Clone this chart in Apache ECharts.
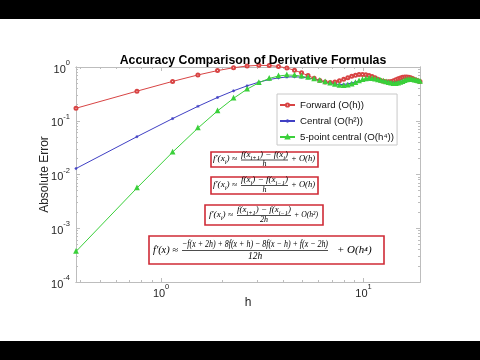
<!DOCTYPE html>
<html>
<head>
<meta charset="utf-8">
<script src="https://cdn.jsdelivr.net/npm/echarts@6/dist/echarts.min.js"></script>
<style>
  html, body { margin: 0; padding: 0; background: #fff; }
  #chart { width: 480px; height: 360px; }
</style>
</head>
<body>
<div id="chart"></div>
<script>
// ---- data ----
const hValues = [0.38, 0.76, 1.14, 1.52, 1.9, 2.28, 2.66, 3.04, 3.42, 3.8,
  4.18, 4.56, 4.94, 5.32, 5.7, 6.08, 6.46, 6.84, 7.22, 7.6,
  7.98, 8.36, 8.74, 9.12, 9.5, 9.88, 10.26, 10.64, 11.02, 11.4,
  11.78, 12.16, 12.54, 12.92, 13.3, 13.68, 14.06, 14.44, 14.82, 15.2,
  15.58, 15.96, 16.34, 16.72, 17.1, 17.48, 17.86, 18.24, 18.62, 19.0];

const forwardErr = [0.1709, 0.3552, 0.5395, 0.7108, 0.8573, 0.9699, 1.0429, 1.0744, 1.0663, 1.0239,
  0.9552, 0.8700, 0.7788, 0.6916, 0.6169, 0.5611, 0.5276, 0.5171, 0.5275, 0.5544,
  0.5918, 0.6332, 0.6721, 0.7028, 0.7215, 0.7260, 0.7164, 0.6945, 0.6638, 0.6286,
  0.5937, 0.5635, 0.5415, 0.5299, 0.5294, 0.5392, 0.5572, 0.5802, 0.6046, 0.6267,
  0.6435, 0.6525, 0.6529, 0.6447, 0.6294, 0.6091, 0.5868, 0.5656, 0.5481, 0.5365];

const centralErr = [0.01291, 0.05053, 0.1097, 0.1853, 0.2712, 0.3605, 0.4462, 0.5223, 0.5837, 0.6273,
  0.6517, 0.6574, 0.6469, 0.6237, 0.5925, 0.5582, 0.5256, 0.4986, 0.4800, 0.4715,
  0.4731, 0.4838, 0.5012, 0.5225, 0.5446, 0.5643, 0.5793, 0.5879, 0.5893, 0.5839,
  0.5728, 0.5579, 0.5414, 0.5258, 0.5131, 0.5049, 0.5020, 0.5046, 0.5120, 0.5230,
  0.5359, 0.5487, 0.5598, 0.5677, 0.5714, 0.5706, 0.5656, 0.5573, 0.5469, 0.5360];

const fivePointErr = [0.000369, 0.005609, 0.02605, 0.07297, 0.1525, 0.2615, 0.3871, 0.5103, 0.6121, 0.6792,
  0.7076, 0.7024, 0.6744, 0.6356, 0.5954, 0.5584, 0.5255, 0.4965, 0.4718, 0.4543,
  0.4479, 0.4558, 0.4781, 0.5109, 0.5474, 0.5796, 0.6011, 0.6093, 0.6053, 0.5927,
  0.5759, 0.5583, 0.5414, 0.5255, 0.5108, 0.4983, 0.4902, 0.4891, 0.4966, 0.5122,
  0.5329, 0.5543, 0.5716, 0.5817, 0.5836, 0.5787, 0.5694, 0.5583, 0.5470, 0.5360];

const seriesNames = ['Forward (O(h))', 'Central (O(h\u00B2))', '5-point central (O(h\u2074))'];
const xMajorTicks = [1, 10];
const xMinorTicks = [0.4, 0.5, 0.6, 0.7, 0.8, 0.9, 2, 3, 4, 5, 6, 7, 8, 9];
const yMajorTicks = [1e-4, 1e-3, 1e-2, 1e-1, 1];
const yMinorTicks = [];
for (let d = -4; d < 0; d++) for (let m = 2; m <= 9; m++) yMinorTicks.push(+(m * Math.pow(10, d)).toPrecision(3));

const titleText = 'Accuracy Comparison of Derivative Formulas';
const xName = 'h';
const yName = 'Absolute Error';

// formula boxes: [left part, numerator, denominator, right part]
const formulas = [
  ['f\u2032(x_{i}) \u2248', 'f(x_{i+1}) \u2212 f(x_{i})', 'h', '+ O(h)'],
  ['f\u2032(x_{i}) \u2248', 'f(x_{i}) \u2212 f(x_{i\u22121})', 'h', '+ O(h)'],
  ['f\u2032(x_{i}) \u2248', 'f(x_{i+1}) \u2212 f(x_{i\u22121})', '2h', '+ O(h\u00B2)'],
  ['f\u2032(x) \u2248', '\u2212f(x + 2h) + 8f(x + h) \u2212 8f(x \u2212 h) + f(x \u2212 2h)', '12h', '+ O(h\u2074)']
];

// ---- chart ----
const axisGray = '#bdbdbd';
const textDark = '#262626';
const sansFont = '"Liberation Sans", Arial, Helvetica, sans-serif';
const serifFont = '"Liberation Serif", "DejaVu Serif", serif';

function expLabel(v) {
  const e = Math.round(Math.log10(v));
  if (Math.abs(Math.log10(v) - e) > 1e-6) return '';
  return '{b|10}{s|' + e + '}';
}
const labelRich = {
  b: { fontSize: 11, fontFamily: sansFont, color: textDark, padding: [5, 0, 0, 0], verticalAlign: 'bottom' },
  s: { fontSize: 7.5, fontFamily: sansFont, color: textDark, verticalAlign: 'top' }
};

function xAx(pos, ticks, len, withLabels) {
  const a = {
    type: 'log', logBase: 10, min: 0.38, max: 19, position: pos, gridIndex: 0,
    axisLine: { show: true, onZero: false, lineStyle: { color: axisGray, width: 1 } },
    axisTick: { show: true, inside: true, length: len, customValues: ticks, lineStyle: { color: axisGray } },
    axisLabel: { show: false },
    splitLine: { show: false }, minorTick: { show: false }, minorSplitLine: { show: false }
  };
  if (withLabels) {
    a.axisLabel = { show: true, customValues: xMajorTicks, formatter: expLabel, rich: labelRich, margin: 1 };
    a.name = xName; a.nameLocation = 'middle'; a.nameGap = 15; a.nameMoveOverlap = false;
    a.nameTextStyle = { fontSize: 12, fontFamily: sansFont, color: textDark };
  }
  return a;
}
function yAx(pos, ticks, len, withLabels) {
  const a = {
    type: 'log', logBase: 10, min: 1e-4, max: 1, position: pos, gridIndex: 0,
    axisLine: { show: true, onZero: false, lineStyle: { color: axisGray, width: 1 } },
    axisTick: { show: true, inside: true, length: len, customValues: ticks, lineStyle: { color: axisGray } },
    axisLabel: { show: false },
    splitLine: { show: false }, minorTick: { show: false }, minorSplitLine: { show: false }
  };
  if (withLabels) {
    a.axisLabel = { show: true, customValues: yMajorTicks, formatter: expLabel, rich: labelRich, margin: 6 };
    a.name = yName; a.nameLocation = 'middle'; a.nameGap = 25; a.nameRotate = 90; a.nameMoveOverlap = false;
    a.nameTextStyle = { fontSize: 12, fontFamily: sansFont, color: textDark };
  }
  return a;
}

const colors = ['#d84444', '#4040c4', '#3ad03a'];
const symbols = ['emptyCircle', 'path://M5 0V10M0 5H10M1.5 1.5L8.5 8.5M1.5 8.5L8.5 1.5', 'emptyTriangle'];
const symbolSizes = [3, 3, 2.5];
const values = [forwardErr, centralErr, fivePointErr];

const series = seriesNames.map((name, si) => ({
  name: name, type: 'line', xAxisIndex: 0, yAxisIndex: 0,
  data: hValues.map((h, i) => [h, values[si][i]]),
  symbol: symbols[si], symbolSize: symbolSizes[si], showSymbol: true,
  clip: false,
  lineStyle: { color: colors[si], width: 1 },
  itemStyle: { color: colors[si], borderColor: colors[si], borderWidth: 0.8 },
  emphasis: { disabled: true },
  animation: false
}));

// formula graphics
function parts(s) {
  const out = []; let last = 0, m;
  const re = /_\{([^}]*)\}/g;
  while ((m = re.exec(s))) {
    if (m.index > last) out.push(['n', s.slice(last, m.index)]);
    out.push(['sub', m[1]]);
    last = re.lastIndex;
  }
  if (last < s.length) out.push(['n', s.slice(last)]);
  return out;
}
function toRich(s) { return parts(s).map(p => '{' + p[0] + '|' + p[1] + '}').join(''); }
const measureCtx = document.createElement('canvas').getContext('2d');
function richWidth(s, fs) {
  let w = 0;
  parts(s).forEach(p => {
    const size = p[0] === 'sub' ? fs * 0.72 : fs;
    measureCtx.font = 'italic ' + size + 'px ' + serifFont;
    w += measureCtx.measureText(p[1]).width;
  });
  return w;
}
function richStyles(fs) {
  return {
    n: { fontSize: fs, fontFamily: serifFont, fontStyle: 'italic', fill: '#000', padding: [0, 0, 2, 0], verticalAlign: 'top' },
    sub: { fontSize: fs * 0.72, fontFamily: serifFont, fontStyle: 'italic', fill: '#000', verticalAlign: 'bottom' }
  };
}
function ftext(x, y, s, fs, align, targetW) {
  const sx = targetW ? Math.min(1.15, targetW / richWidth(s, fs)) : 1;
  return { type: 'text', x: x, y: y, scaleX: sx, z: 101,
    style: { text: toRich(s), rich: richStyles(fs), align: align, verticalAlign: 'middle', fill: '#000' } };
}
// layout of formula boxes (pixel positions)
const boxLayout = [
  { box: [211, 152, 107, 15], fs: 8, lx: 213, ly: 160, lw0: 24, nx: 264.5, ny: 156, dy: 164.5, lineY: 160, lw: 47, rx: 291, rw: 24 },
  { box: [211, 177, 107, 17], fs: 8, lx: 213, ly: 186, lw0: 24, nx: 264.5, ny: 181, dy: 190.5, lineY: 185.5, lw: 47, rx: 291, rw: 24 },
  { box: [205, 205, 118, 20], fs: 8, lx: 209, ly: 216, lw0: 24, nx: 264, ny: 211, dy: 220.5, lineY: 215.5, lw: 54, rx: 294, rw: 24 },
  { box: [149, 236, 235, 28], fs: 9.5, lx: 153, ly: 251, lw0: 25, nx: 255, ny: 245.5, dy: 257.5, lineY: 250.5, lw: 146, rx: 337, rw: 41 }
];
const graphics = [
  { type: 'rect', shape: { x: 0, y: 0, width: 480, height: 19 }, style: { fill: '#000' }, z: 100 },
  { type: 'rect', shape: { x: 0, y: 341, width: 480, height: 19 }, style: { fill: '#000' }, z: 100 }
];
formulas.forEach((f, i) => {
  const L = boxLayout[i];
  graphics.push({ type: 'rect', z: 100, shape: { x: L.box[0], y: L.box[1], width: L.box[2], height: L.box[3] },
    style: { fill: '#fff', stroke: '#cf2b36', lineWidth: 1.6 } });
  graphics.push(ftext(L.lx, L.ly, f[0], L.fs, 'left', L.lw0));
  graphics.push(ftext(L.nx, L.ny, f[1], L.fs, 'center', L.lw));
  graphics.push({ type: 'line', z: 101, shape: { x1: L.nx - L.lw / 2, y1: L.lineY, x2: L.nx + L.lw / 2, y2: L.lineY },
    style: { stroke: '#000', lineWidth: 0.7 } });
  graphics.push(ftext(L.nx, L.dy, f[2], L.fs, 'center'));
  graphics.push(ftext(L.rx, L.ly, f[3], L.fs, 'left', L.rw));
});

const chart = echarts.init(document.getElementById('chart'), null, { renderer: 'canvas', width: 480, height: 360 });
chart.setOption({
  animation: false,
  backgroundColor: '#ffffff',
  title: {
    text: titleText, left: 248, top: 50, textAlign: 'center',
    textStyle: { fontSize: 12.3, fontWeight: 'bold', fontFamily: sansFont, color: '#000' }
  },
  grid: { left: 76, right: 60, top: 67, bottom: 78, containLabel: false },
  legend: {
    show: true, orient: 'vertical', left: 277, top: 94,
    data: seriesNames,
    itemWidth: 15, itemHeight: 4, itemGap: 6,
    padding: [6, 3, 3, 2],
    borderColor: '#c8c8c8', borderWidth: 1, backgroundColor: '#ffffff',
    textStyle: { fontSize: 9.7, fontFamily: sansFont, color: '#111' },
    selectedMode: false
  },
  xAxis: [
    xAx('bottom', xMajorTicks, 4, true),
    xAx('bottom', xMinorTicks, 2, false),
    xAx('top', xMajorTicks, 4, false),
    xAx('top', xMinorTicks, 2, false)
  ],
  yAxis: [
    yAx('left', yMajorTicks, 4, true),
    yAx('left', yMinorTicks, 2, false),
    yAx('right', yMajorTicks, 4, false),
    yAx('right', yMinorTicks, 2, false)
  ],
  series: series,
  graphic: { elements: graphics }
});
</script>
</body>
</html>
